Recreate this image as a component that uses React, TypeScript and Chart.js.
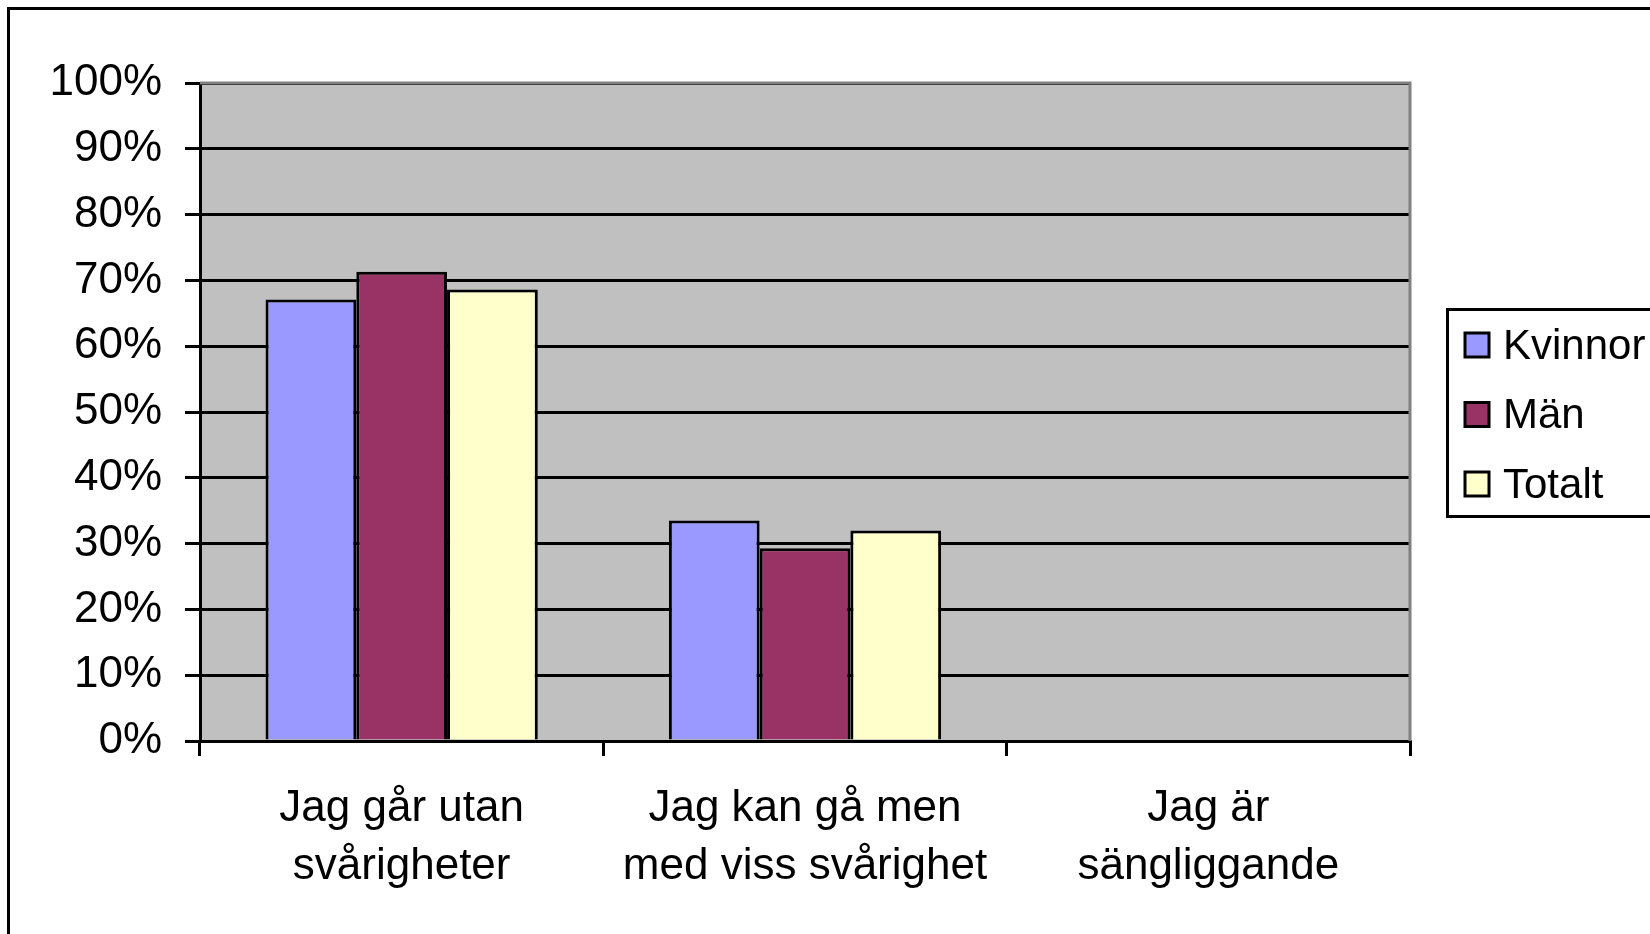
import React, { useEffect, useRef } from 'react';
import { Chart, registerables } from 'chart.js';

Chart.register(...registerables);

const categories: string[][] = [
  ['Jag går utan', 'svårigheter'],
  ['Jag kan gå men', 'med viss svårighet'],
  ['Jag är', 'sängliggande'],
];
const seriesNames = ['Kvinnor', 'Män', 'Totalt'];
const kvinnor = [67.1, 33.5, 0];
const man = [71.3, 29.3, 0];
const totalt = [68.6, 32.0, 0];
const seriesColors = ['#9999FF', '#993366', '#FFFFCC'];
const yMin = 0;
const yMax = 100;
const yStep = 10;

const FONT = "'Liberation Sans', Arial, sans-serif";

const decorPlugin = {
  id: 'decor',
  beforeDraw(chart: any) {
    const { ctx, chartArea } = chart;
    ctx.save();
    ctx.fillStyle = '#FFFFFF';
    ctx.fillRect(0, 0, chart.width, chart.height);
    ctx.fillStyle = '#C0C0C0';
    ctx.fillRect(chartArea.left, chartArea.top, chartArea.right - chartArea.left, chartArea.bottom - chartArea.top);
    ctx.restore();
  },
  afterDraw(chart: any) {
    const { ctx, chartArea } = chart;
    ctx.save();
    // plot area border (top & right, gray)
    ctx.strokeStyle = '#808080';
    ctx.lineWidth = 3;
    ctx.beginPath();
    ctx.moveTo(chartArea.left, chartArea.top);
    ctx.lineTo(chartArea.right, chartArea.top);
    ctx.lineTo(chartArea.right, chartArea.bottom);
    ctx.stroke();
    // outer chart border
    ctx.strokeStyle = '#000000';
    ctx.lineWidth = 3;
    ctx.strokeRect(8.5, 8.5, 3000, 3000);
    // legend
    ctx.lineWidth = 3;
    ctx.strokeRect(1447.5, 309.5, 400, 207);
    const ds = chart.data.datasets;
    ctx.font = `42px ${FONT}`;
    ctx.textBaseline = 'middle';
    ctx.textAlign = 'left';
    for (let i = 0; i < ds.length; i++) {
      const yc = 345 + i * 69.5;
      ctx.fillStyle = ds[i].backgroundColor;
      ctx.fillRect(1465, yc - 12, 24, 24);
      ctx.lineWidth = 3;
      ctx.strokeStyle = '#000';
      ctx.strokeRect(1465, yc - 12, 24, 24);
      ctx.fillStyle = '#000';
      ctx.fillText(ds[i].label, 1503, yc + 2);
    }
    ctx.restore();
  },
};

export default function App() {
  const ref = useRef<HTMLCanvasElement | null>(null);
  useEffect(() => {
    document.body.style.margin = '0';
    document.body.style.overflow = 'hidden';
    const canvas = ref.current;
    if (!canvas) return;
    const values = [kvinnor, man, totalt];
    const chart = new Chart(canvas, {
      type: 'bar',
      data: {
        labels: categories,
        datasets: seriesNames.map((name, i) => ({
          label: name,
          data: values[i],
          backgroundColor: seriesColors[i],
          borderColor: '#000000',
          borderWidth: 3,
          borderSkipped: 'start',
          categoryPercentage: 0.675,
          barPercentage: 1.0,
        })),
      },
      options: {
        responsive: false,
        animation: false,
        events: [],
        layout: { padding: { top: 83, right: 240, left: 0, bottom: 0 } },
        plugins: {
          legend: { display: false },
          tooltip: { enabled: false },
          title: { display: false },
        },
        scales: {
          x: {
            afterFit(scale: any) { scale.height = 193; },
            grid: {
              display: true,
              drawOnChartArea: false,
              drawTicks: true,
              tickLength: 15,
              color: '#000000',
              lineWidth: 3,
              offset: true,
            },
            border: { display: true, color: '#000000', width: 3 },
            ticks: {
              color: '#000000',
              font: { family: FONT, size: 44, lineHeight: 1.32 },
              padding: 24,
              maxRotation: 0,
              autoSkip: false,
            },
          },
          y: {
            min: yMin,
            max: yMax,
            afterFit(scale: any) { scale.width = 200; },
            grid: {
              color: '#000000',
              lineWidth: 3,
              tickLength: 15,
              drawTicks: true,
            },
            border: { display: true, color: '#000000', width: 3 },
            ticks: {
              stepSize: yStep,
              color: '#000000',
              font: { family: FONT, size: 44 },
              padding: 23,
              callback: (v: any) => `${v}%`,
            },
          },
        },
      },
      plugins: [decorPlugin],
    });
    return () => chart.destroy();
  }, []);
  return (
    <div style={{ width: 1650, height: 934 }}>
      <canvas ref={ref} width={1650} height={934} style={{ display: 'block', width: 1650, height: 934 }} />
    </div>
  );
}
